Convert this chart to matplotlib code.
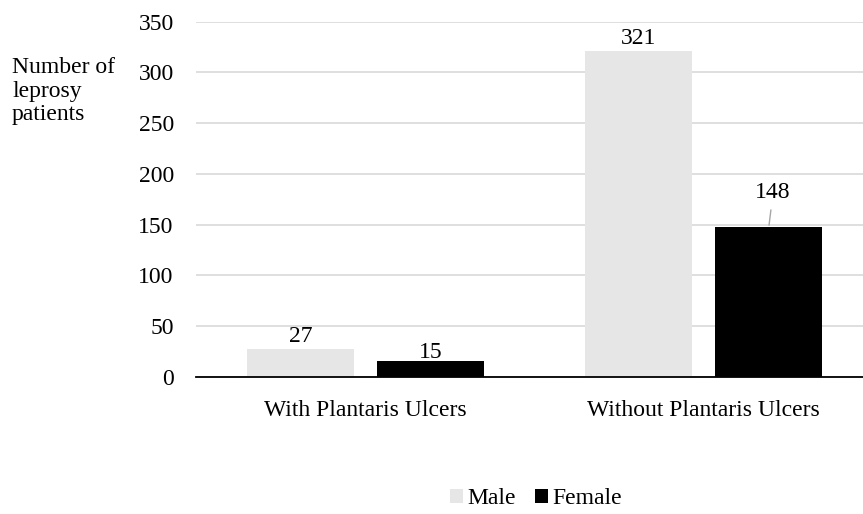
import matplotlib.pyplot as plt
import numpy as np

categories = ["With Plantaris Ulcers", "Without Plantaris Ulcers"]
male = [27, 321]
female = [15, 148]
series_names = ["Male", "Female"]

plt.rcParams.update({
    "font.family": "serif",
    "font.serif": ["Liberation Serif", "Times New Roman", "DejaVu Serif"],
    "font.size": 17,
})

fig = plt.figure(figsize=(8.63, 5.14), dpi=100)
ax = fig.add_axes([196 / 863, 1 - 376.7 / 514, 667 / 863, (376.7 - 21.7) / 514])

x = np.arange(len(categories))
w = 0.316
off = 0.192
b1 = ax.bar(x - off, male, w, color="#e6e6e6", label=series_names[0], zorder=3)
b2 = ax.bar(x + off, female, w, color="#000000", label=series_names[1], zorder=3)

# value labels; the tall female bar gets a leader line
for rect, v in zip(b1, male):
    ax.annotate(str(v), (rect.get_x() + rect.get_width() / 2, v),
                xytext=(0, 1.5), textcoords="offset points",
                ha="center", va="bottom")
for i, (rect, v) in enumerate(zip(b2, female)):
    cx = rect.get_x() + rect.get_width() / 2
    if i == 1:
        ax.annotate(str(v), (cx, v), xytext=(3, 17), textcoords="offset points",
                    ha="center", va="bottom",
                    arrowprops=dict(arrowstyle="-", color="#a6a6a6", lw=1,
                                    shrinkA=3, shrinkB=1))
    else:
        ax.annotate(str(v), (cx, v), xytext=(0, -1), textcoords="offset points",
                    ha="center", va="bottom")

ax.set_xlim(-0.5, 1.47)
ax.set_ylim(0, 350)
ax.set_yticks(range(0, 351, 50))
ax.set_xticks(x)
ax.set_xticklabels(categories)
ax.tick_params(axis="both", length=0)
ax.tick_params(axis="y", pad=16)
ax.tick_params(axis="x", pad=17)
ax.yaxis.grid(True, color="#d9d9d9", lw=1.2, zorder=0)
ax.set_axisbelow(True)
for s in ["left", "right", "top"]:
    ax.spines[s].set_visible(False)
ax.spines["bottom"].set_linewidth(1.3)
ax.spines["bottom"].set_zorder(4)

fig.text(12 / 863, 1 - 91 / 514, "Number of\nleprosy\npatients",
         ha="left", va="center", linespacing=1.15)

fig.legend(loc="center", bbox_to_anchor=(536 / 863, 1 - 499 / 514), ncol=2,
           frameon=False, handlelength=0.55, handleheight=0.55,
           handletextpad=0.2, columnspacing=0.8)

fig.savefig("out.png", dpi=100)
